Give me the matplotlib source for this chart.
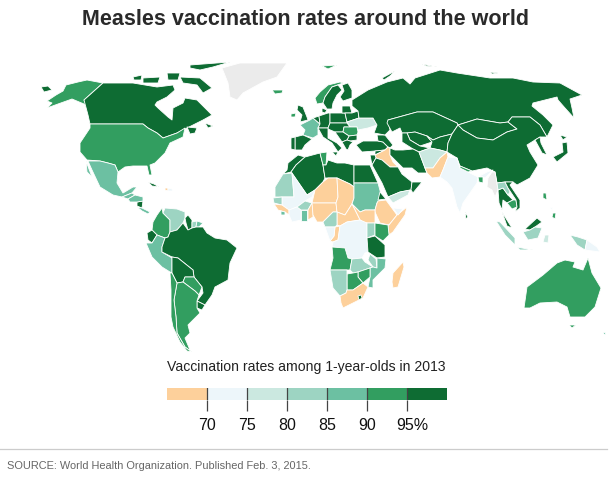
import numpy as np
import matplotlib
matplotlib.use("Agg")
import matplotlib.pyplot as plt
from matplotlib.collections import PolyCollection
from matplotlib.colors import ListedColormap, BoundaryNorm
from matplotlib.transforms import ScaledTranslation

TITLE = "Measles vaccination rates around the world"
LEGEND_TITLE = "Vaccination rates among 1-year-olds in 2013"
SOURCE = "SOURCE: World Health Organization. Published Feb. 3, 2015."
BREAKS = [65, 70, 75, 80, 85, 90, 95, 100]
TICKS = [70, 75, 80, 85, 90, 95]
TICK_LABELS = ["70", "75", "80", "85", "90", "95%"]
COLORS = ['#fdd09b', '#edf6fa', '#cbe8e0', '#9dd4c2', '#6cc0a2', '#329e60', '#0e6c33']
NODATA = '#ebebeb'

# Hand-traced simplified country outlines (no geodata is available offline)
SHAPES = {
 "Alaska": [[(47,101),(56,95),(63,91),(66,85),(78,82),(87,80),(103,83),(84,100),(90,108),(92,114),(84,104),(72,99),(58,104),(47,108),(52,103)]],
 "Chukotka": [[(41,87),(48,86),(52,90),(44,92)]],
 "Canada": [[(103,83),(133,83),(157,87),(173,85),(175,90),(167,97),(157,102),(155,105),(158,108),(168,117),(172,120),(173,108),(183,103),(185,98),(197,100),(205,108),(212,115),(203,120),(187,128),(177,133),(163,138),(157,133),(148,128),(143,124),(90,124),(88,115),(84,100)],
            [(180,77),(200,78),(212,88),(203,93),(197,85),(183,83)],
            [(143,78),(160,77),(158,83),(143,83)],
            [(133,77),(142,75),(141,80),(134,80)],
            [(190,65),(230,62),(213,67),(200,70),(190,68)],
            [(167,73),(180,73),(178,80),(168,80)],
            [(205,123),(213,126),(208,128)],
            [(187,127),(197,128),(195,133),(190,134)]],
 "USA": [[(90,124),(143,124),(148,128),(157,133),(163,138),(177,133),(185,128),(183,137),(170,143),(165,153),(155,163),(150,165),(152,175),(149,175),(147,166),(133,166),(125,167),(118,172),(115,165),(108,163),(100,161),(87,160),(80,152),(80,143),(90,128)]],
 "Mexico": [[(88,161),(100,161),(108,163),(115,165),(118,172),(117,183),(123,193),(133,187),(137,187),(132,193),(122,197),(113,195),(100,187),(92,170)],
            [(86,161),(92,177),(87,172)]],
 "Guatemala": [[(122,197),(132,193),(135,195),(128,199)]],
 "Nicaragua": [[(137,202),(143,201),(142,208),(137,206)]],
 "Honduras": [[(128,199),(135,195),(143,197),(143,201),(137,202),(130,202)]],
 "Panama": [[(137,207),(142,208),(150,212),(148,214),(142,211)]],
 "Cuba": [[(148,182),(154,184),(159,187),(152,186)]],
 "Haiti": [[(165,188),(168,188),(168,191),(165,190)]],
 "Dominican Rep.": [[(168,188),(172,189),(173,191),(168,191)]],
 "Colombia": [[(162,208),(163,213),(170,220),(170,228),(170,232),(168,237),(165,238),(157,235),(152,230),(153,222),(157,215)]],
 "Venezuela": [[(165,208),(177,209),(185,212),(185,218),(183,223),(177,230),(170,232),(170,220),(163,213)]],
 "Guyana": [[(188,215),(192,220),(192,228),(188,230),(186,223),(185,218)]],
 "Suriname": [[(192,222),(197,221),(196,227),(192,228)]],
 "French Guiana": [[(197,221),(203,223),(199,227),(196,227)]],
 "Ecuador": [[(147,233),(152,230),(157,235),(152,243),(148,240)]],
 "Peru": [[(146,243),(152,243),(157,235),(165,238),(162,247),(162,252),(167,255),(172,258),(172,273),(170,272),(162,267),(152,257)]],
 "Brazil": [[(170,232),(177,230),(183,223),(188,230),(192,228),(196,227),(203,227),(207,233),(215,238),(227,240),(237,248),(230,263),(228,280),(215,287),(212,295),(205,305),(197,301),(203,293),(202,287),(194,277),(193,270),(178,258),(172,257),(162,252),(162,247),(165,238),(168,237)]],
 "Bolivia": [[(172,257),(178,258),(193,270),(194,277),(185,277),(183,282),(177,283),(172,273)]],
 "Paraguay": [[(185,277),(194,277),(202,287),(199,295),(195,291),(183,282)]],
 "Uruguay": [[(197,301),(205,305),(202,310),(197,308)]],
 "Argentina": [[(177,283),(183,282),(195,291),(199,295),(197,301),(197,308),(200,313),(188,325),(190,333),(185,338),(190,350),(192,352),(185,347),(177,333),(176,317),(174,300)]],
 "Chile": [[(170,273),(172,273),(177,283),(174,300),(176,317),(177,333),(185,347),(192,352),(187,351),(180,342),(173,327),(171,317),(171,290)]],
 "Greenland": [[(222,68),(240,63),(287,63),(277,77),(263,82),(243,93),(237,100),(230,97),(228,83)]],
 "Iceland": [[(272,90),(283,90),(282,93),(275,94)]],
 "Norway": [[(315,98),(320,92),(328,85),(340,82),(343,83),(332,87),(325,97),(323,103),(317,104)]],
 "Sweden": [[(325,97),(332,87),(338,85),(342,90),(337,95),(333,103),(332,109),(327,109),(323,103)]],
 "Finland": [[(342,85),(348,83),(352,90),(352,98),(343,101),(340,97),(344,91)]],
 "UK": [[(298,105),(303,107),(307,117),(308,120),(300,122),(302,115),(297,110)]],
 "Ireland": [[(291,114),(296,113),(295,117),(291,117)]],
 "France": [[(300,125),(310,120),(313,118),(320,124),(318,128),(318,135),(313,138),(303,135),(305,130)]],
 "Spain": [[(295,137),(303,135),(312,139),(305,145),(302,150),(295,150)]],
 "Portugal": [[(291,138),(295,137),(295,150),(291,149)]],
 "Benelux": [[(313,118),(319,116),(320,124)]],
 "Denmark": [[(322,108),(327,110),(325,113),(322,112)]],
 "Germany": [[(319,116),(328,113),(330,113),(330,123),(328,128),(318,128),(320,124)]],
 "Poland": [[(330,113),(345,113),(347,122),(347,123),(330,123)]],
 "Baltics": [[(342,106),(350,106),(352,113),(345,113),(342,113)]],
 "Belarus": [[(345,113),(352,113),(358,111),(359,118),(347,122)]],
 "Ukraine": [[(347,122),(359,118),(373,118),(377,125),(368,128),(358,130),(357,127),(344,127),(350,127)]],
 "Central Europe": [[(330,123),(347,123),(350,127),(344,127),(343,132),(335,132),(328,129),(328,128)]],
 "Italy": [[(318,128),(328,128),(328,138),(337,143),(342,148),(338,152),(332,143),(323,137)],[(332,152),(338,152),(336,156)]],
 "Romania": [[(344,127),(357,127),(358,132),(357,135),(349,136),(343,132)]],
 "Bulgaria": [[(349,136),(357,135),(357,140),(350,141),(347,140)]],
 "Serbia": [[(335,132),(343,132),(349,136),(347,140),(342,142)]],
 "Greece": [[(342,142),(347,140),(350,141),(353,142),(350,145),(348,150),(346,149)]],
 "Turkey": [[(356,145),(363,141),(378,141),(383,142),(388,147),(385,150),(375,151),(362,152)]],
 "Caucasus": [[(377,135),(385,135),(393,145),(390,148),(388,147),(383,142),(378,141)]],
 "Syria": [[(375,151),(385,150),(375,155)]],
 "Iraq": [[(375,155),(385,150),(388,147),(390,148),(390,155),(393,162),(398,167),(390,167),(382,160),(376,158)]],
 "Israel": [[(370,155),(375,155),(376,158),(372,165)]],
 "Russia": [[(352,100),(368,90),(387,82),(403,78),(410,84),(415,78),(440,70),(457,73),(490,78),(513,78),(533,82),(560,83),(582,95),(570,99),(572,108),(574,118),(565,108),(558,100),(557,97),(533,103),(532,106),(543,115),(553,125),(547,137),(540,125),(530,117),(512,117),(508,122),(500,123),(477,119),(458,125),(457,123),(433,112),(417,112),(388,120),(390,130),(385,135),(374,133),(377,125),(373,118),(359,118),(358,111),(352,106)],
            [(382,78),(395,71),(390,76),(384,80)]],
 "Svalbard": [[(322,66),(337,65),(328,69)]],
 "Arctic islands": [[(422,64),(437,67),(426,66)],[(490,72),(498,73),(492,74)]],
 "Kazakhstan": [[(388,120),(417,112),(433,112),(457,123),(458,125),(452,134),(440,137),(433,140),(427,136),(415,132),(407,133),(402,133),(400,128),(392,132),(387,123)]],
 "Uzbekistan": [[(407,133),(415,132),(427,136),(432,142),(420,146),(410,140)]],
 "Turkmenistan": [[(402,133),(407,133),(410,140),(420,146),(430,148),(419,152),(413,149),(402,142)]],
 "Tajikistan": [[(427,136),(433,140),(440,137),(452,134),(448,143),(447,152),(440,150),(430,148),(432,142)]],
 "Mongolia": [[(458,125),(477,119),(500,123),(508,122),(517,129),(507,132),(493,140),(477,138),(463,130)]],
 "China": [[(447,152),(448,143),(452,134),(458,125),(463,130),(477,138),(493,140),(507,132),(517,129),(508,122),(512,117),(530,117),(540,125),(547,137),(540,137),(535,140),(527,145),(530,152),(538,165),(530,178),(517,185),(513,182),(505,182),(497,183),(495,172),(487,168),(472,171),(460,166),(457,158)]],
 "Korea": [[(535,140),(540,137),(541,143),(547,155),(542,153)]],
 "Japan": [[(553,157),(563,152),(562,143),(567,142),(568,153),(557,162)],[(560,135),(567,137),(563,140)]],
 "Iran": [[(390,148),(395,150),(403,150),(413,149),(419,152),(425,168),(427,173),(418,173),(412,168),(403,168),(397,162),(390,155)]],
 "Afghanistan": [[(419,152),(430,148),(440,150),(447,152),(440,158),(433,168),(425,168)]],
 "Pakistan": [[(447,152),(448,157),(443,170),(440,177),(432,178),(427,173),(425,168),(433,168),(440,158)]],
 "India": [[(448,157),(457,158),(460,168),(468,172),(478,177),(487,172),(493,170),(485,178),(483,177),(478,177),(477,183),(463,203),(460,213),(457,207),(452,188),(447,182),(440,177),(443,170)]],
 "Nepal": [[(460,166),(472,171),(468,172),(460,168)]],
 "Bangladesh": [[(478,177),(483,177),(483,183),(479,182)]],
 "Myanmar": [[(488,178),(492,172),(495,172),(497,183),(498,190),(495,197),(492,190),(487,187)]],
 "Sri Lanka": [[(465,212),(468,217),(466,219)]],
 "Thailand": [[(498,190),(503,188),(508,195),(513,200),(507,203),(503,200),(502,210),(499,203)]],
 "Laos": [[(497,183),(505,182),(508,188),(510,192),(508,195),(503,188),(498,190)]],
 "Cambodia": [[(507,203),(513,200),(516,200),(517,207),(512,209)]],
 "Vietnam": [[(505,182),(513,182),(510,185),(520,200),(520,208),(515,212),(517,207),(516,200),(508,188)]],
 "Malaysia": [[(502,212),(512,228),(507,226)],[(525,229),(537,218),(542,222),(535,227),(530,230)]],
 "Indonesia": [[(523,232),(530,230),(535,227),(542,228),(538,238),(528,240)],
               [(496,221),(500,222),(515,238),(515,245),(505,235)],
               [(517,247),(533,250),(520,250)],
               [(570,235),(578,237),(587,240),(585,250),(577,245)]],
 "Sulawesi": [[(545,235),(549,235),(548,243),(543,242)]],
 "PNG": [[(587,240),(597,247),(600,252),(585,250)]],
 "Philippines": [[(543,193),(546,193),(547,200),(543,198)],[(553,213),(556,213),(555,219),(552,217)]],
 "Visayas": [[(550,207),(552,207),(552,211)]],
 "Australia": [[(524,308),(527,287),(543,275),(557,263),(565,260),(575,262),(573,267),(583,270),(588,258),(592,273),(601,288),(595,307),(585,317),(570,317),(567,307),(557,302),(540,303),(530,308)],
               [(569,325),(576,325),(572,328)]],
 "New Zealand": [[(603,333),(606,332),(605,335)]],
 "Morocco": [[(275,183),(282,175),(287,170),(288,163),(298,155),(305,157),(296,165),(291,172),(283,174)]],
 "Algeria": [[(291,172),(296,165),(305,157),(320,153),(323,165),(325,178),(323,182),(315,190),(307,195)]],
 "Tunisia": [[(320,153),(327,152),(326,165),(323,165)]],
 "Libya": [[(326,165),(328,160),(337,163),(345,163),(354,165),(354,187),(350,184),(337,178),(328,178),(325,178),(323,165)]],
 "Egypt": [[(354,165),(370,165),(378,183),(354,183)]],
 "Mauritania": [[(275,187),(283,174),(292,173),(294,197),(282,197),(275,197)]],
 "Mali": [[(292,173),(307,195),(315,190),(312,197),(305,201),(297,207),(289,210),(282,205),(282,197),(294,197)]],
 "Senegal": [[(273,198),(282,197),(282,205),(274,203)]],
 "Guinea": [[(274,204),(282,205),(289,210),(289,215),(285,212),(278,210)]],
 "Sierra Leone": [[(281,211),(285,212),(285,215),(281,215)]],
 "Cote d'Ivoire": [[(289,210),(297,207),(301,210),(301,220),(292,222),(289,215)]],
 "Burkina Faso": [[(297,207),(305,201),(312,203),(308,210),(301,210)]],
 "Ghana": [[(301,210),(307,210),(307,221),(301,221)]],
 "Benin": [[(308,210),(312,203),(313,208),(313,217),(308,220)]],
 "Niger": [[(315,190),(323,182),(328,178),(337,178),(338,197),(336,203),(325,203),(312,203)]],
 "Nigeria": [[(312,203),(336,203),(337,212),(333,212),(323,222),(317,222),(313,215)]],
 "Chad": [[(337,178),(350,184),(354,187),(354,198),(352,204),(345,215),(337,212),(336,203),(338,197)]],
 "Sudan": [[(354,183),(378,183),(382,198),(377,203),(375,210),(365,210),(360,212),(352,204),(354,198)]],
 "Eritrea": [[(380,192),(386,199),(378,200)]],
 "Ethiopia": [[(378,201),(386,200),(397,215),(389,225),(380,223),(375,212),(375,210),(377,203)]],
 "Somalia": [[(407,207),(405,215),(393,232),(389,235),(388,225),(389,225),(397,215)]],
 "Somaliland": [[(393,208),(403,209),(398,215)]],
 "South Sudan": [[(352,204),(360,212),(365,210),(375,210),(375,223),(365,223),(360,220)]],
 "CAR": [[(337,212),(345,215),(352,204),(360,220),(347,222),(340,226),(337,225)]],
 "Cameroon": [[(333,212),(337,212),(337,225),(335,227),(325,227),(323,222)]],
 "Congo": [[(335,227),(340,226),(338,240),(333,242),(330,241),(334,236)]],
 "Gabon": [[(325,227),(335,227),(334,236),(330,241)]],
 "DRC": [[(340,226),(347,222),(360,220),(367,223),(367,240),(368,252),(365,253),(362,258),(352,259),(348,258),(345,248),(332,247),(333,242),(338,240)]],
 "Uganda": [[(367,223),(375,223),(375,235),(367,238)]],
 "Kenya": [[(375,223),(388,225),(389,235),(383,241),(375,236)]],
 "Tanzania": [[(367,238),(375,236),(385,245),(385,257),(377,258),(368,252)]],
 "Angola": [[(332,247),(345,248),(348,258),(352,259),(350,270),(330,270),(333,258)]],
 "Zambia": [[(352,259),(362,258),(365,262),(373,267),(370,268),(358,272),(353,273),(350,270)]],
 "Malawi": [[(370,254),(376,259),(377,268),(373,267),(368,260)]],
 "Mozambique": [[(377,258),(386,259),(385,268),(373,280),(373,288),(368,287),(370,277),(370,268),(373,267),(377,268)]],
 "Zimbabwe": [[(358,272),(370,268),(370,277),(363,283),(358,277)]],
 "Botswana": [[(347,274),(353,273),(358,272),(358,277),(363,283),(353,290),(347,290)]],
 "Namibia": [[(330,270),(347,270),(347,290),(346,293),(340,296),(333,288)]],
 "South Africa": [[(340,296),(346,293),(347,290),(353,290),(363,283),(368,287),(363,298),(353,303),(343,308),(341,303)]],
 "Lesotho": [[(358,296),(361,295),(362,298),(359,300)]],
 "Madagascar": [[(403,262),(404,267),(398,287),(393,288),(392,282),(393,273)]],
 "Saudi Arabia": [[(372,165),(376,158),(382,160),(390,167),(398,167),(402,174),(412,182),(411,190),(400,192),(388,197),(382,183)]],
 "Yemen": [[(388,197),(400,192),(410,190),(408,195),(393,203)]],
 "Oman": [[(412,182),(422,182),(413,193),(411,190)]],
}

NAMES = list(SHAPES)
RATE_BY_BIN = {
 67: ["Iraq","Pakistan","Haiti","Guinea","Benin","Niger","Nigeria","Chad","Ethiopia","Somalia","South Sudan","CAR","Congo","South Africa","Madagascar"],
 72: ["India","Mali","Cote d'Ivoire","DRC","Gabon","PNG","Dominican Rep.","Somaliland","Visayas"],
 77: ["Ukraine","Afghanistan","Yemen","Sulawesi"],
 82: ["Suriname","Venezuela","Mauritania","Senegal","Burkina Faso","Cameroon","Uganda","Zambia","Malawi","Namibia","Laos","Indonesia"],
 87: ["Mexico","Guatemala","Honduras","Panama","Peru","French Guiana","France","Sudan","Ghana","Mozambique","Sierra Leone","New Zealand"],
 92: ["Alaska","USA","Colombia","Argentina","Chile","Paraguay","Iceland","Norway","Ireland","Romania","Tunisia","Kenya","Angola","Zimbabwe","Botswana","Australia","Nepal","Bangladesh","Cambodia","Philippines","Svalbard"],
}
MISSING = ["Greenland","Myanmar"]
BINNED = {n: v for v, ns in RATE_BY_BIN.items() for n in ns}
RATES = [np.nan if n in MISSING else BINNED.get(n, 97) for n in NAMES]

fig = plt.figure(figsize=(6.15, 4.78), dpi=100, facecolor='white')
ax = fig.add_axes([0, 0, 1, 1])
ax.set_xlim(0, 615)
ax.set_ylim(478, 0)
ax.axis('off')

cmap = ListedColormap(COLORS)
cmap.set_bad(NODATA)
norm = BoundaryNorm(BREAKS, cmap.N)
polys, vals = [], []
for name, rate in zip(NAMES, RATES):
    for p in SHAPES[name]:
        polys.append(p)
        vals.append(rate)
pc = PolyCollection(polys, array=np.ma.masked_invalid(vals), cmap=cmap, norm=norm,
                    edgecolors='white', linewidths=0.6)
ax.add_collection(pc)

ax.text(306, 19, TITLE, ha='center', va='center', fontsize=15.5, fontweight='bold',
        family='Liberation Sans', color='#2a2a2a')
ax.text(306, 367, LEGEND_TITLE, ha='center', va='center', fontsize=10.1,
        family='Liberation Sans', color='#222222')
ax.plot([0, 607], [449, 449], color='#cccccc', lw=0.9)
ax.text(7, 466, SOURCE, ha='left', va='center', fontsize=7.9,
        family='Liberation Sans', color='#666666')

lax = fig.add_axes([167/615, 1-400/478, 280/615, 12/478])
lax.set_xlim(BREAKS[0], BREAKS[-1])
lax.set_ylim(0, 1)
lax.barh(0.5, np.diff(BREAKS), left=BREAKS[:-1], height=1, color=COLORS)
for s in lax.spines.values():
    s.set_visible(False)
lax.set_yticks([])
lax.set_xticks(TICKS, TICK_LABELS)
for t in TICKS:
    lax.axvline(t, color='#444444', lw=0.9)
lax.tick_params(axis='x', length=8, width=0.9, color='#444444', pad=5, labelsize=11.5, labelcolor='#111111')
labels = lax.get_xticklabels()
for l in labels:
    l.set_family('Liberation Sans')
labels[-1].set_transform(labels[-1].get_transform() + ScaledTranslation(5.5/100, 0, fig.dpi_scale_trans))

fig.savefig('out.png', dpi=100)
